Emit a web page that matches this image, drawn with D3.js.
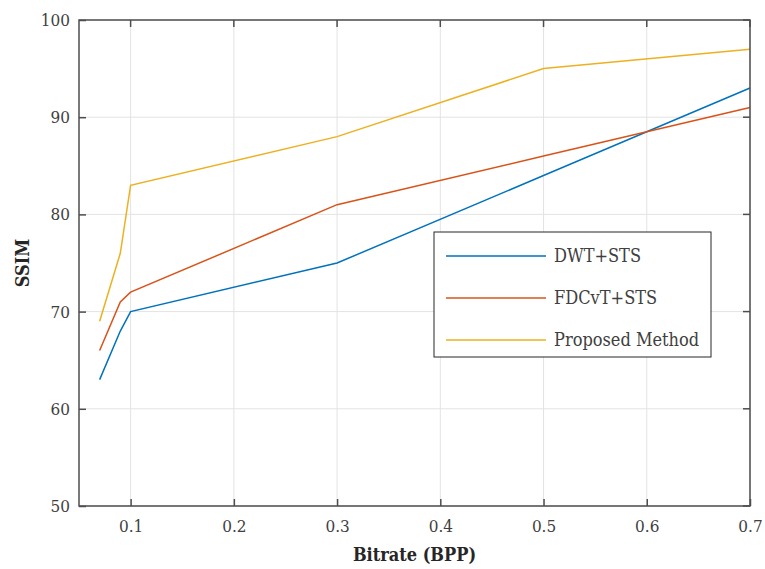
<!DOCTYPE html>
<html>
<head>
<meta charset="utf-8">
<script src="https://cdn.jsdelivr.net/npm/d3@7"></script>
<style>
  body { margin: 0; background: #fff; }
  text { font-family: "DejaVu Serif Condensed", "Liberation Serif", serif; }
</style>
</head>
<body>
<svg width="765" height="569"></svg>
<script>
const bitrate = [0.07, 0.09, 0.1, 0.3, 0.5, 0.7];
const dwtSts = [63, 68, 70, 75, 84, 93];
const fdcvtSts = [66, 71, 72, 81, 86, 91];
const proposed = [69, 76, 83, 88, 95, 97];
const xTicks = [0.1, 0.2, 0.3, 0.4, 0.5, 0.6, 0.7];
const yTicks = [50, 60, 70, 80, 90, 100];

const series = [
  { name: "DWT+STS", values: dwtSts, color: "#0072BD" },
  { name: "FDCvT+STS", values: fdcvtSts, color: "#D95319" },
  { name: "Proposed Method", values: proposed, color: "#EDB120" }
];

const margin = { left: 79, top: 20, right: 15, bottom: 63 };
const W = 765, H = 569;
const iw = W - margin.left - margin.right;
const ih = H - margin.top - margin.bottom;

let svg = d3.select("svg");
let g = svg.append("g").attr("transform", "translate(" + margin.left + "," + margin.top + ")");

let x = d3.scaleLinear().domain([0.05, 0.7]).range([0, iw]);
let y = d3.scaleLinear().domain([50, 100]).range([ih, 0]);

// grid
g.selectAll(".gx").data(xTicks).enter().append("line")
  .attr("x1", d => x(d)).attr("x2", d => x(d))
  .attr("y1", 0).attr("y2", ih)
  .attr("stroke", "#e3e3e3").attr("stroke-width", 1);
g.selectAll(".gy").data(yTicks).enter().append("line")
  .attr("x1", 0).attr("x2", iw)
  .attr("y1", d => y(d)).attr("y2", d => y(d))
  .attr("stroke", "#e3e3e3").attr("stroke-width", 1);

// lines
let line = d3.line().x((d, i) => x(bitrate[i])).y(d => y(d));
series.forEach(s => {
  g.append("path").datum(s.values)
    .attr("d", line)
    .attr("fill", "none")
    .attr("stroke", s.color)
    .attr("stroke-width", 1.5);
});

// axes
const axisColor = "#4d4d4d";
let xAxis = g.append("g").attr("transform", "translate(0," + ih + ")")
  .call(d3.axisBottom(x).tickValues(xTicks).tickSizeInner(-7).tickSizeOuter(0).tickPadding(14).tickFormat(d3.format(".1f")));
let yAxis = g.append("g")
  .call(d3.axisLeft(y).tickValues(yTicks).tickSizeInner(-7).tickSizeOuter(0).tickPadding(9));
[xAxis, yAxis].forEach(a => {
  a.select(".domain").remove();
  a.selectAll(".tick line").attr("stroke", axisColor).attr("stroke-width", 1.5);
  a.selectAll("text").attr("fill", "#404040").style("font-size", "17px")
    .style("font-family", "'DejaVu Serif Condensed', serif");
});
// top ticks / right ticks
g.selectAll(".tt").data(xTicks).enter().append("line")
  .attr("x1", d => x(d)).attr("x2", d => x(d)).attr("y1", 0).attr("y2", 7)
  .attr("stroke", axisColor).attr("stroke-width", 1.5);
g.selectAll(".rt").data(yTicks).enter().append("line")
  .attr("x1", iw - 7).attr("x2", iw).attr("y1", d => y(d)).attr("y2", d => y(d))
  .attr("stroke", axisColor).attr("stroke-width", 1.5);

// frame
g.append("rect").attr("x", 0).attr("y", 0).attr("width", iw).attr("height", ih)
  .attr("fill", "none").attr("stroke", axisColor).attr("stroke-width", 1.5);

// labels
svg.append("text").attr("x", margin.left + iw / 2).attr("y", 561)
  .attr("text-anchor", "middle").attr("fill", "#262626")
  .style("font-size", "18px").style("font-weight", "bold").text("Bitrate (BPP)");
svg.append("text").attr("transform", "translate(29," + (margin.top + ih / 2) + ") rotate(-90)")
  .attr("text-anchor", "middle").attr("fill", "#262626")
  .style("font-size", "18px").style("font-weight", "bold").text("SSIM");

// legend
let lg = svg.append("g").attr("transform", "translate(434,232)");
lg.append("rect").attr("width", 277).attr("height", 125)
  .attr("fill", "#fff").attr("stroke", "#262626").attr("stroke-width", 1);
series.forEach((s, i) => {
  let yy = 24 + i * 42;
  lg.append("line").attr("x1", 12).attr("x2", 112).attr("y1", yy).attr("y2", yy)
    .attr("stroke", s.color).attr("stroke-width", 1.5);
  lg.append("text").attr("x", 120).attr("y", yy + 6).attr("fill", "#404040")
    .style("font-size", "18px").text(s.name);
});
</script>
</body>
</html>
